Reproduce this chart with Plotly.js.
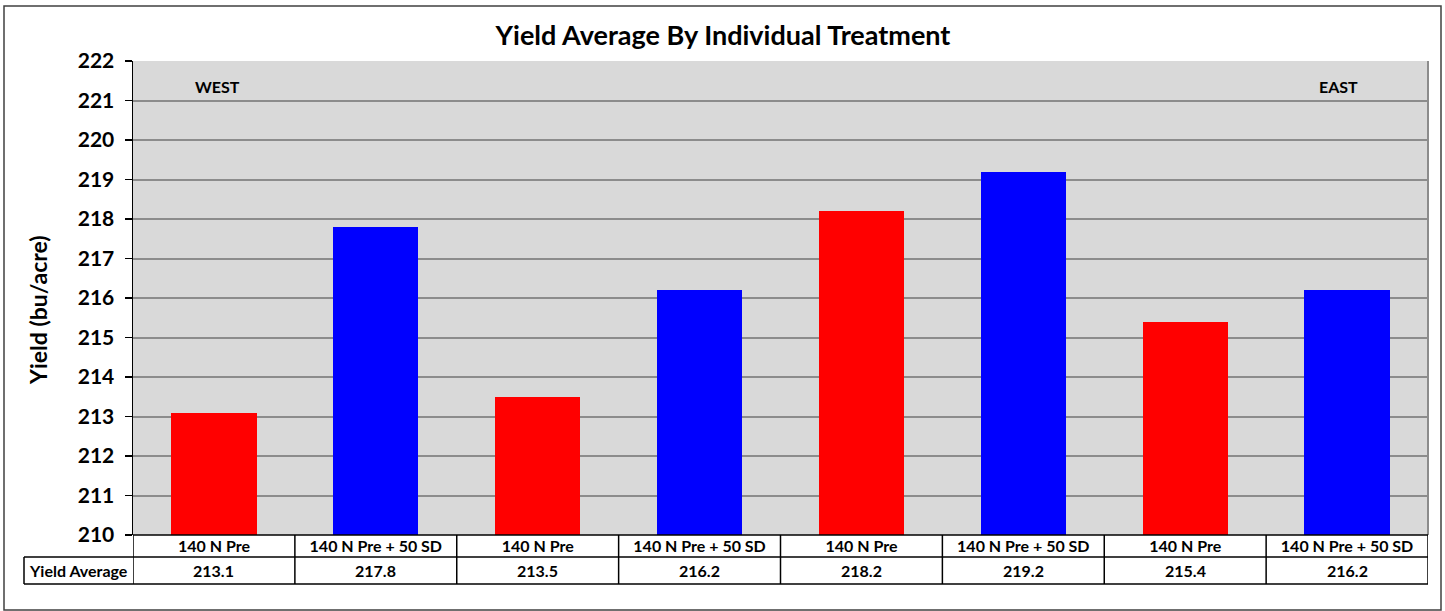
<!DOCTYPE html>
<html>
<head>
<meta charset="utf-8">
<script src="https://cdn.plot.ly/plotly-3.0.1.min.js"></script>
<style>html,body{margin:0;padding:0;background:#fff;}#chart{width:1445px;height:611px;}</style>
</head>
<body>
<div id="chart"></div>
<script>
const treatments = ["140 N Pre", "140 N Pre + 50 SD", "140 N Pre", "140 N Pre + 50 SD", "140 N Pre", "140 N Pre + 50 SD", "140 N Pre", "140 N Pre + 50 SD"];
const yieldAvg = [213.1, 217.8, 213.5, 216.2, 218.2, 219.2, 215.4, 216.2];
const barColors = ["#ff0000", "#0000ff", "#ff0000", "#0000ff", "#ff0000", "#0000ff", "#ff0000", "#0000ff"];
const rowLabel = "Yield Average";
const sideLabels = ["WEST", "EAST"];
const yTicks = [210, 211, 212, 213, 214, 215, 216, 217, 218, 219, 220, 221, 222];
const yTitle = "Yield (bu/acre)";
const chartTitle = "Yield Average By Individual Treatment";

const W = 1445, H = 611;
const L = 133, R = 1428, T = 61, B = 535;
const pw = R - L, ph = B - T;
const px = v => (v - L) / pw;
const py = v => (B - v) / ph;

const idx = treatments.map((_, i) => i);
const FONT = "Lato, 'Open Sans', sans-serif";

const shapes = [];
const lineCol = "#000000";
shapes.push({type: "rect", xref: "paper", yref: "paper", x0: px(4), x1: px(1441), y0: py(610), y1: py(6), line: {color: "#404040", width: 1.5}, layer: "below"});
shapes.push({type: "line", xref: "paper", yref: "paper", x0: 1, x1: 1, y0: 0, y1: 1, line: {color: "#8c8c8c", width: 2}});
shapes.push({type: "line", xref: "paper", yref: "paper", x0: 0, x1: 1, y0: py(535), y1: py(535), line: {color: lineCol, width: 1.5}});
shapes.push({type: "line", xref: "paper", yref: "paper", x0: px(24), x1: 1, y0: py(557), y1: py(557), line: {color: lineCol, width: 1.5}});
shapes.push({type: "line", xref: "paper", yref: "paper", x0: px(24), x1: 1, y0: py(584), y1: py(584), line: {color: lineCol, width: 1.5}});
shapes.push({type: "line", xref: "paper", yref: "paper", x0: px(24), x1: px(24), y0: py(557), y1: py(584), line: {color: lineCol, width: 1.5}});
for (let k = 0; k <= treatments.length; k++) {
  const xv = k - 0.5;
  shapes.push({type: "line", xref: "x", yref: "paper", x0: xv, x1: xv, y0: py(535), y1: py(584), line: {color: lineCol, width: 1.5}});
}

const bold = (size) => ({family: FONT, size: size, color: "#000", weight: "bold"});
const annotations = [];
yieldAvg.forEach((v, i) => {
  annotations.push({x: i, xref: "x", y: py(570.5), yref: "paper", text: v.toFixed(1), showarrow: false,
    font: bold(16), xanchor: "center", yanchor: "middle"});
});
annotations.push({x: px(78), xref: "paper", y: py(570.5), yref: "paper", text: rowLabel, showarrow: false,
  font: bold(16), xanchor: "center", yanchor: "middle"});
annotations.push({x: px(217), xref: "paper", y: py(86), yref: "paper", text: sideLabels[0], showarrow: false,
  font: bold(16), xanchor: "center", yanchor: "middle"});
annotations.push({x: px(1338), xref: "paper", y: py(86), yref: "paper", text: sideLabels[1], showarrow: false,
  font: bold(16), xanchor: "center", yanchor: "middle"});
annotations.push({x: px(38), xref: "paper", y: py(310), yref: "paper", text: yTitle, showarrow: false, textangle: -90,
  font: bold(23), xanchor: "center", yanchor: "middle"});

const trace = {
  type: "bar",
  x: idx,
  y: yieldAvg,
  marker: {color: barColors, line: {width: 0}},
  width: 0.526,
  hoverinfo: "x+y"
};

const layout = {
  width: W, height: H,
  margin: {l: L, r: W - R, t: T, b: H - B, pad: 0},
  paper_bgcolor: "#ffffff",
  plot_bgcolor: "#d9d9d9",
  showlegend: false,
  title: {text: chartTitle, x: 723 / W, xref: "container", xanchor: "center",
    y: 1 - 36 / H, yref: "container", yanchor: "middle",
    font: bold(27)},
  xaxis: {
    type: "linear", range: [-0.5, treatments.length - 0.5],
    tickvals: idx, ticktext: treatments, ticks: "", ticklen: 0,
    tickfont: bold(16),
    showgrid: false, zeroline: false, showline: false, fixedrange: true
  },
  yaxis: {
    range: [210, 222], tickvals: yTicks, ticks: "outside", ticklen: 7, tickwidth: 1.5, tickcolor: "#000",
    ticklabelstandoff: 6,
    tickfont: bold(21),
    showgrid: true, gridcolor: "#8c8c8c", gridwidth: 2,
    showline: true, linecolor: "#000", linewidth: 1.5, zeroline: false
  },
  shapes: shapes,
  annotations: annotations,
  bargap: 0
};

Plotly.newPlot("chart", [trace], layout, {displayModeBar: false, staticPlot: true});
</script>
</body>
</html>
